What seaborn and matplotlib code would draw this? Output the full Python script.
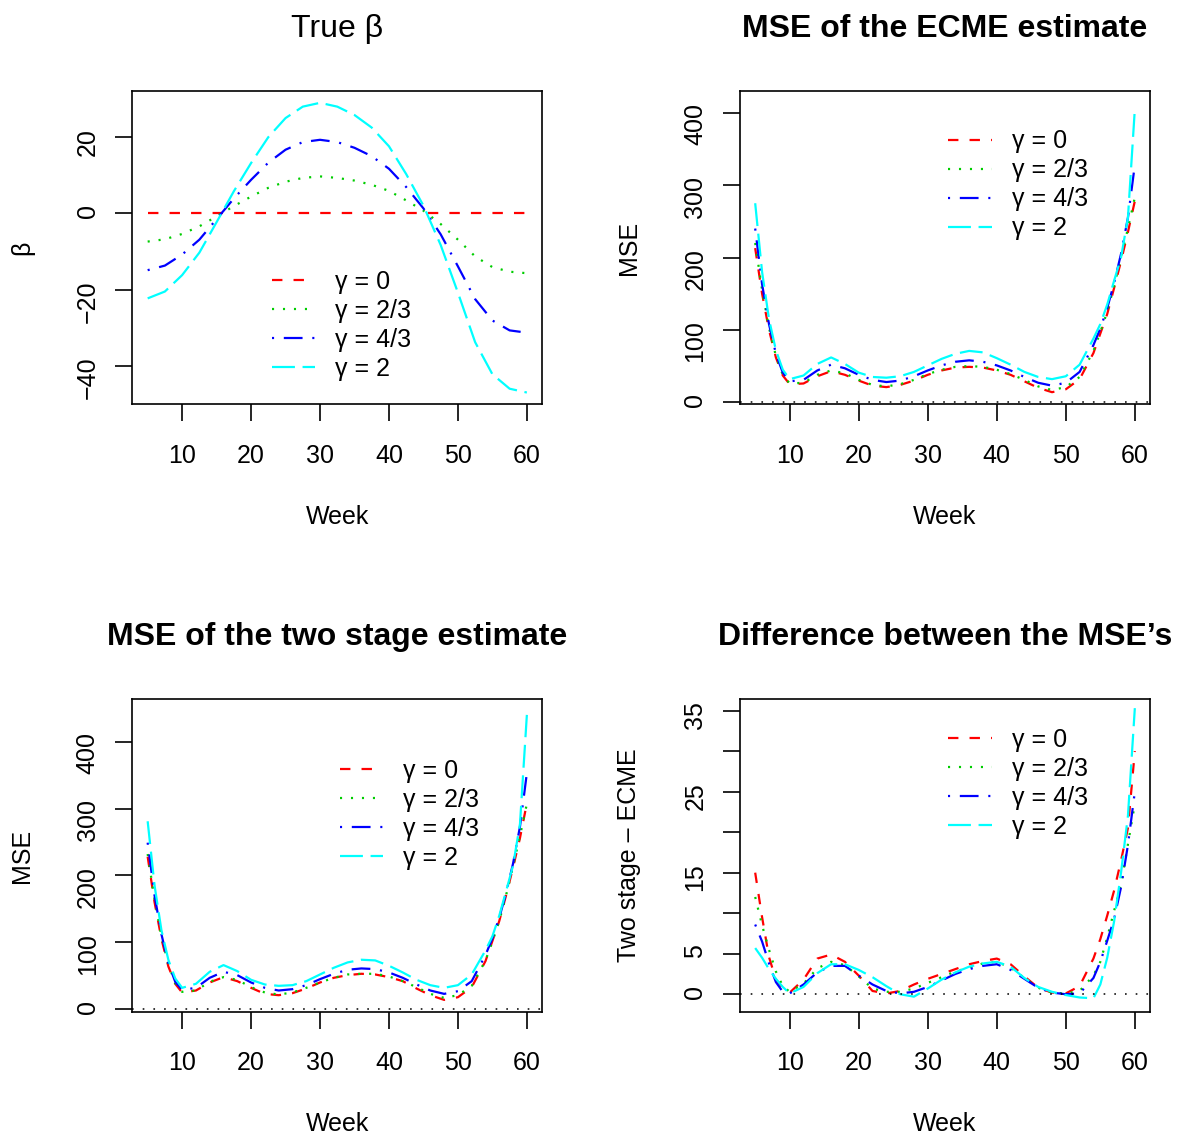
import matplotlib
matplotlib.use("Agg")
import matplotlib.pyplot as plt
import seaborn as sns

sns.set_theme(style="ticks")
plt.rcParams["font.family"] = ["Liberation Sans", "DejaVu Sans"]
plt.rcParams["lines.scale_dashes"] = False
plt.rcParams["axes.edgecolor"] = "black"
plt.rcParams["axes.linewidth"] = 1.2
plt.rcParams["xtick.color"] = "black"
plt.rcParams["ytick.color"] = "black"
plt.rcParams["text.color"] = "black"
plt.rcParams["axes.labelcolor"] = "black"

# weeks for the true beta curves
weeks_beta = [5, 7.5, 10, 12.5, 15, 17.5, 20, 22.5, 25, 27.5, 30, 32.5, 35,
              37.5, 40, 42.5, 45, 47.5, 50, 52.5, 55, 57.5, 60]
beta_g0 = [0, 0, 0, 0, 0, 0, 0, 0, 0, 0, 0, 0, 0, 0, 0, 0, 0, 0, 0, 0, 0, 0, 0]
beta_g23 = [-7.4, -6.8, -5.4, -3.4, -0.8, 1.9, 4.4, 6.7, 8.3, 9.3, 9.7, 9.3, 8.6,
            7.5, 5.9, 3.4, 0.7, -2.8, -6.9, -11.3, -14.1, -15.3, -15.7]
beta_g43 = [-14.9, -13.7, -10.8, -6.9, -1.5, 3.9, 8.8, 13.3, 16.7, 18.7, 19.3, 18.7, 17.2,
            15.0, 11.7, 6.9, 1.3, -5.5, -13.9, -22.5, -28.1, -30.7, -31.3]
beta_g2 = [-22.3, -20.5, -16.2, -10.3, -2.3, 5.8, 13.2, 20.0, 25.0, 28.0, 29.0, 28.0, 25.8,
           22.5, 17.6, 10.3, 2.0, -8.3, -20.8, -33.8, -42.2, -46.0, -47.0]

# weeks for the MSE curves
weeks = [5, 6, 7, 8, 9, 10, 12, 14, 16, 18, 20, 22, 24, 26, 28, 30, 32, 34, 36,
         38, 40, 42, 44, 46, 48, 50, 52, 54, 55, 56, 57, 58, 59, 60]

ecme_g0 = [213, 150, 100, 62, 37, 25, 26, 36, 43, 38, 30, 23, 21, 24, 30, 38, 44, 48, 49,
           48, 44, 38, 29, 20, 14, 18, 32, 68, 95, 122, 158, 195, 235, 278]
ecme_g23 = [220, 155, 103, 64, 38, 26, 27, 38, 44, 40, 31, 24, 22, 25, 31, 39, 45, 49, 50,
            49, 45, 39, 31, 22, 17, 21, 35, 71, 97, 125, 161, 200, 240, 283]
ecme_g43 = [240, 163, 108, 67, 41, 29, 31, 44, 52, 47, 38, 31, 28, 30, 36, 44, 51, 56, 58,
            56, 51, 44, 35, 27, 23, 27, 42, 79, 102, 130, 165, 205, 255, 328]
ecme_g2 = [275, 180, 115, 72, 45, 32, 37, 53, 62, 53, 41, 35, 34, 36, 42, 51, 60, 67, 71,
           69, 61, 52, 42, 35, 32, 36, 52, 88, 108, 135, 168, 200, 255, 405]

two_g0 = [228, 160, 105, 64, 38, 25, 28, 40, 48, 42, 32, 23, 21, 24, 31, 40, 47, 51, 53,
          52, 48, 42, 31, 21, 14, 18, 33, 72, 102, 132, 171, 212, 256, 308]
two_g23 = [232, 164, 109, 67, 39, 26, 28, 41, 48, 44, 33, 25, 22, 25, 32, 40, 47, 52, 53,
           53, 49, 42, 33, 23, 17, 21, 35, 73, 101, 132, 171, 214, 259, 307]
two_g43 = [249, 170, 112, 69, 41, 29, 32, 47, 56, 51, 40, 32, 28, 30, 36, 45, 53, 59, 61,
           60, 55, 47, 37, 28, 23, 27, 42, 81, 106, 137, 174, 218, 273, 353]
two_g2 = [281, 185, 118, 74, 46, 32, 38, 56, 66, 57, 44, 37, 35, 36, 42, 52, 62, 70, 74,
          73, 65, 55, 44, 36, 32, 36, 52, 88, 109, 140, 177, 215, 277, 440]

diff_g0 = [15.0, 9.5, 4.6, 1.8, 0.8, 0.2, 1.8, 4.4, 4.9, 4.0, 2.3, 0.4, 0.1, 0.4, 1.2, 1.9,
           2.5, 3.1, 3.7, 4.1, 4.4, 3.7, 2.2, 0.8, 0.2, 0.1, 1.0, 4.4, 6.8, 9.7, 12.8, 16.5,
           20.5, 30.0]
diff_g23 = [12.0, 8.5, 5.5, 2.8, 1.0, 0.3, 1.3, 3.2, 4.0, 3.6, 2.2, 0.7, 0.3, 0.3, 0.7, 1.4,
            2.1, 2.8, 3.3, 3.8, 4.0, 3.3, 2.0, 0.8, 0.2, 0.1, 0.4, 2.3, 4.0, 7.0, 10.3, 13.5,
            18.5, 23.5]
diff_g43 = [8.6, 6.5, 3.8, 1.5, 0.3, 0.1, 1.2, 2.7, 3.5, 3.5, 2.3, 1.2, 0.4, 0.1, 0.3, 0.9,
            1.7, 2.5, 3.1, 3.5, 3.7, 3.0, 1.9, 0.8, 0.2, 0.0, 0.1, 2.0, 4.0, 6.6, 9.3, 13.2,
            18.4, 25.0]
diff_g2 = [5.7, 4.5, 3.1, 1.9, 0.9, 0.1, 0.9, 2.6, 3.7, 3.7, 3.0, 2.1, 1.0, 0.0, -0.3, 0.7,
           1.8, 2.7, 3.4, 3.8, 4.0, 3.4, 2.0, 0.9, 0.3, -0.1, -0.4, -0.5, 1.2, 4.5, 9.0, 15.0,
           22.0, 35.3]

gamma_labels = ["γ = 0", "γ = 2/3", "γ = 4/3", "γ = 2"]
colors = ["red", "#00CD00", "blue", "cyan"]
styles = [(0, (7.5, 8)), (0, (1.5, 6.4)), (0, (1.5, 7, 13.5, 7)), (0, (16.5, 5.5))]
xticks = [10, 20, 30, 40, 50, 60]

fig = plt.figure(figsize=(11.84, 11.39), dpi=100)


def panel(rect, x, series, title, ylabel, ylim, yticks, yticklabels, leg_xy,
          bold=True, zero_line=False):
    ax = fig.add_axes(rect)
    for vals, lab, col, ls in zip(series, gamma_labels, colors, styles):
        sns.lineplot(x=x, y=vals, color=col, linestyle=ls, linewidth=1.6,
                     label=lab, ax=ax, estimator=None)
    if zero_line:
        ax.axhline(0, color="black", linewidth=1.1, linestyle=(0, (1.2, 6.5)))
    ax.set_xlim(2.8, 62.2)
    ax.set_ylim(*ylim)
    ax.set_xticks(xticks)
    ax.set_yticks(yticks)
    ax.set_yticklabels(yticklabels)
    ax.tick_params(axis="both", length=12, width=1.2, labelsize=18)
    ax.tick_params(axis="x", pad=16.5)
    ax.tick_params(axis="y", pad=11.5, labelrotation=90)
    for s in ax.spines.values():
        s.set_visible(True)
        s.set_linewidth(1.2)
    ax.set_title(title, fontsize=23, fontweight="bold" if bold else "normal",
                 pad=0, y=1.172)
    ax.set_xlabel("Week", fontsize=18)
    ax.xaxis.set_label_coords(0.5, -0.36)
    ax.xaxis.label.set_va("center")
    ax.set_ylabel(ylabel, fontsize=18)
    ax.yaxis.set_label_coords(-0.27, 0.5)
    ax.yaxis.label.set_va("center")
    ax.legend(loc="upper left", bbox_to_anchor=leg_xy, frameon=False, borderpad=0,
              borderaxespad=0, handlelength=1.73, handletextpad=0.8,
              labelspacing=0.2, fontsize=18)
    return ax


panel([0.1119, 0.6450, 0.3459, 0.2751], weeks_beta,
      [beta_g0, beta_g23, beta_g43, beta_g2], "True β", "β",
      (-50.1, 32.1), [-40, -20, 0, 20], ["−40", "−20", "0", "20"],
      (0.340, 0.4286), bold=False)

panel([0.6250, 0.6450, 0.3463, 0.2751], weeks,
      [ecme_g0, ecme_g23, ecme_g43, ecme_g2], "MSE of the ECME estimate", "MSE",
      (-2.8, 430), [0, 100, 200, 300, 400], ["0", "100", "200", "300", "400"],
      (0.508, 0.8777), zero_line=True)

panel([0.1119, 0.1118, 0.3459, 0.2743], weeks,
      [two_g0, two_g23, two_g43, two_g2], "MSE of the two stage estimate", "MSE",
      (-3.6, 463.4), [0, 100, 200, 300, 400], ["0", "100", "200", "300", "400"],
      (0.5067, 0.8089), zero_line=True)

panel([0.6250, 0.1118, 0.3463, 0.2743], weeks,
      [diff_g0, diff_g23, diff_g43, diff_g2], "Difference between the MSE’s",
      "Two stage – ECME",
      (-2.15, 36.4), [0, 5, 10, 15, 20, 25, 30, 35],
      ["0", "5", "", "15", "", "25", "", "35"],
      (0.508, 0.9072), zero_line=True)

fig.savefig("out.png", dpi=100)
